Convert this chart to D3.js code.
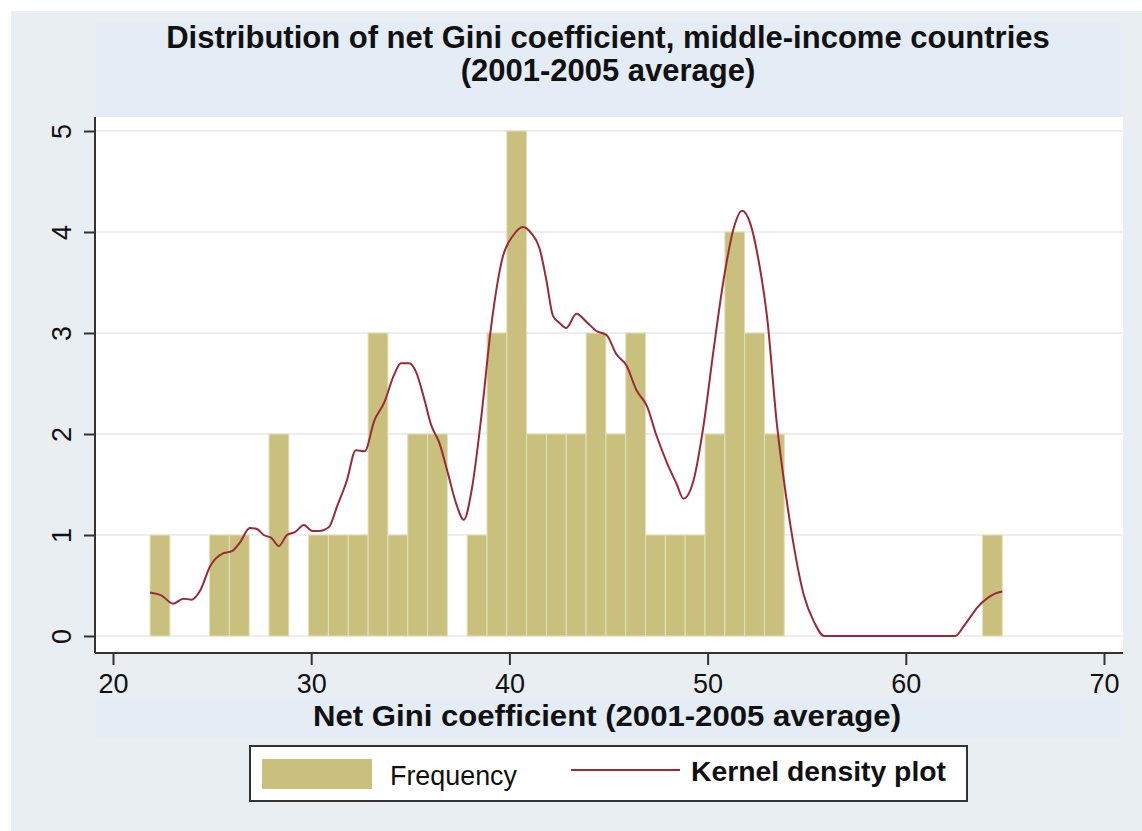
<!DOCTYPE html>
<html>
<head>
<meta charset="utf-8">
<script src="https://cdn.jsdelivr.net/npm/d3@7/dist/d3.min.js"></script>
<style>
  html, body { margin: 0; padding: 0; background: #ffffff; }
  svg { display: block; }
  text { font-family: "Liberation Sans", Arial, sans-serif; fill: #111; }
</style>
</head>
<body>
<svg id="chart" width="1142" height="831"></svg>
<script>
// Histogram of net Gini (2001-2005 avg), bins of width 1 starting at the sample minimum
const binStart = 21.87;
const binWidth = 1;
const binCounts = [
  1, 0, 0, 1, 1, 0, 2, 0, 1, 1,
  1, 3, 1, 2, 2, 0, 1, 3, 5, 2,
  2, 2, 3, 2, 3, 1, 1, 1, 2, 4,
  3, 2, 0, 0, 0, 0, 0, 0, 0, 0,
  0, 0, 1
];

// Kernel density estimate, expressed on the frequency scale
const kdeX = [
  21.87, 22.45, 23.04, 23.55, 23.97, 24.4, 24.9, 25.57, 26.0, 26.42,
  26.9, 27.26, 27.6, 28.0, 28.36, 28.78, 29.2, 29.63, 30.05, 30.39,
  30.9, 31.3, 31.8, 32.25, 32.7, 33.18, 33.68, 34.19, 34.53, 34.95,
  35.3, 35.7, 36.05, 36.47, 36.9, 37.3, 37.7, 38.1, 38.6, 39.07,
  39.66, 40.17, 40.68, 41.1, 41.52, 41.86, 42.2, 42.53, 42.87, 43.38,
  43.89, 44.39, 44.9, 45.4, 45.9, 46.42, 46.93, 47.43, 47.94, 48.45,
  48.78, 49.29, 49.8, 50.3, 50.81, 51.32, 51.74, 52.16, 52.58, 53.0,
  53.5, 53.85, 54.36, 54.86, 55.37, 55.88, 62.5, 62.9, 63.3, 63.6,
  64.15, 64.5, 64.87
];
const kdeY = [
  0.43, 0.40, 0.32, 0.37, 0.36, 0.45, 0.69, 0.82, 0.84, 0.93,
  1.07, 1.06, 1.00, 0.97, 0.89, 1.00, 1.03, 1.10, 1.04, 1.04,
  1.08, 1.28, 1.54, 1.84, 1.83, 2.13, 2.31, 2.59, 2.70, 2.70,
  2.61, 2.35, 2.09, 1.91, 1.61, 1.32, 1.15, 1.45, 2.20, 3.05,
  3.75, 3.96, 4.05, 3.99, 3.84, 3.53, 3.17, 3.10, 3.05, 3.19,
  3.11, 3.02, 2.98, 2.79, 2.68, 2.43, 2.28, 1.98, 1.72, 1.50,
  1.36, 1.54, 2.09, 2.83, 3.53, 4.04, 4.21, 4.08, 3.71, 3.16,
  2.09, 1.54, 0.88, 0.40, 0.14, 0.00, 0.00, 0.09, 0.20, 0.28,
  0.38, 0.42, 0.44
];

const xTicks = [20, 30, 40, 50, 60, 70];
const yTicks = [0, 1, 2, 3, 4, 5];

const titleLines = [
  "Distribution of net Gini coefficient, middle-income countries",
  "(2001-2005 average)"
];
const xTitle = "Net Gini coefficient (2001-2005 average)";
const legendLabels = ["Frequency", "Kernel density plot"];

const barColor = "#c8c07c";
const barEdge = "#e4e0b8";
const lineColor = "#9b2a38";

const svg = d3.select("#chart");

// Layout
const plot = { left: 95, top: 117, right: 1123, bottom: 653 };
const x = d3.scaleLinear().domain([20, 70]).range([113, 1104]);
const y = d3.scaleLinear().domain([0, 5]).range([636, 131]);

// Backgrounds
svg.append("rect").attr("x", 11).attr("y", 11).attr("width", 1142 - 11).attr("height", 831 - 11)
  .attr("fill", "#e8eef2");
svg.append("rect").attr("x", 96).attr("y", 22).attr("width", 1026).attr("height", 95)
  .attr("fill", "#e4ecf5");
svg.append("rect").attr("x", 96).attr("y", 698).attr("width", 1026).attr("height", 40)
  .attr("fill", "#e4ecf5");
svg.append("rect").attr("x", plot.left).attr("y", plot.top)
  .attr("width", plot.right - plot.left).attr("height", plot.bottom - plot.top)
  .attr("fill", "#ffffff");

// Gridlines
svg.append("g").selectAll("line").data(yTicks).join("line")
  .attr("x1", plot.left).attr("x2", plot.right)
  .attr("y1", d => y(d)).attr("y2", d => y(d))
  .attr("stroke", "#eceeef").attr("stroke-width", 2);

// Bars
const bins = binCounts.map((c, i) => ({ x0: binStart + i * binWidth, x1: binStart + (i + 1) * binWidth, n: c }))
  .filter(b => b.n > 0);
svg.append("g").selectAll("rect").data(bins).join("rect")
  .attr("x", d => x(d.x0))
  .attr("width", d => x(d.x1) - x(d.x0))
  .attr("y", d => y(d.n))
  .attr("height", d => y(0) - y(d.n))
  .attr("fill", barColor)
  .attr("stroke", barEdge)
  .attr("stroke-width", 1);

// Density curve
const pts = kdeX.map((v, i) => [v, kdeY[i]]);
const line = d3.line().x(d => x(d[0])).y(d => y(d[1])).curve(d3.curveMonotoneX);
svg.append("path").datum(pts)
  .attr("d", line)
  .attr("fill", "none")
  .attr("stroke", lineColor)
  .attr("stroke-width", 2)
  .attr("stroke-linejoin", "round");

// Axes
const axisFont = "'Liberation Sans', Arial, sans-serif";
const xAxis = d3.axisBottom(x).tickValues(xTicks).tickSize(12).tickPadding(9).tickFormat(d3.format("d"));
const gx = svg.append("g").attr("transform", `translate(0,${plot.bottom})`).call(xAxis);
gx.select(".domain").attr("d", `M${plot.left},0H${plot.right}`).attr("stroke", "#333").attr("stroke-width", 2);
gx.selectAll(".tick line").attr("stroke", "#333").attr("stroke-width", 2);
gx.selectAll(".tick text").attr("font-size", 27).attr("fill", "#111")
  .style("font-family", axisFont);

const yAxis = d3.axisLeft(y).tickValues(yTicks).tickSize(11).tickPadding(0).tickFormat(d3.format("d"));
const gy = svg.append("g").attr("transform", `translate(${plot.left},0)`).call(yAxis);
gy.select(".domain").attr("d", `M0,${plot.top}V${plot.bottom}`).attr("stroke", "#333").attr("stroke-width", 2);
gy.selectAll(".tick line").attr("stroke", "#333").attr("stroke-width", 2);
gy.selectAll(".tick text")
  .attr("font-size", 27).attr("fill", "#111")
  .attr("text-anchor", "middle")
  .attr("dy", null)
  .attr("x", null)
  .attr("transform", "translate(-33,0) rotate(-90)")
  .attr("dominant-baseline", "central")
  .style("font-family", axisFont);

// Title
svg.append("g").selectAll("text").data(titleLines).join("text")
  .attr("x", 608).attr("y", (d, i) => 48 + i * 33)
  .attr("text-anchor", "middle")
  .attr("font-size", 31).attr("font-weight", "bold")
  .text(d => d);

// X-axis title
svg.append("text").attr("x", 607).attr("y", 726)
  .attr("text-anchor", "middle")
  .attr("font-size", 30).attr("font-weight", "bold")
  .attr("textLength", 588).attr("lengthAdjust", "spacingAndGlyphs")
  .text(xTitle);

// Legend
const lg = svg.append("g");
lg.append("rect").attr("x", 250).attr("y", 746).attr("width", 717).attr("height", 55)
  .attr("fill", "#ffffff").attr("stroke", "#333").attr("stroke-width", 2);
lg.append("rect").attr("x", 262).attr("y", 759).attr("width", 110).attr("height", 30)
  .attr("fill", barColor);
lg.append("text").attr("x", 390).attr("y", 785)
  .attr("font-size", 28)
  .attr("textLength", 127).attr("lengthAdjust", "spacingAndGlyphs")
  .attr("fill", "#222")
  .text(legendLabels[0]);
lg.append("line").attr("x1", 571).attr("x2", 680).attr("y1", 770).attr("y2", 770)
  .attr("stroke", lineColor).attr("stroke-width", 2);
lg.append("text").attr("x", 691).attr("y", 781)
  .attr("font-size", 28).attr("font-weight", "bold")
  .attr("textLength", 255).attr("lengthAdjust", "spacingAndGlyphs")
  .text(legendLabels[1]);
</script>
</body>
</html>
